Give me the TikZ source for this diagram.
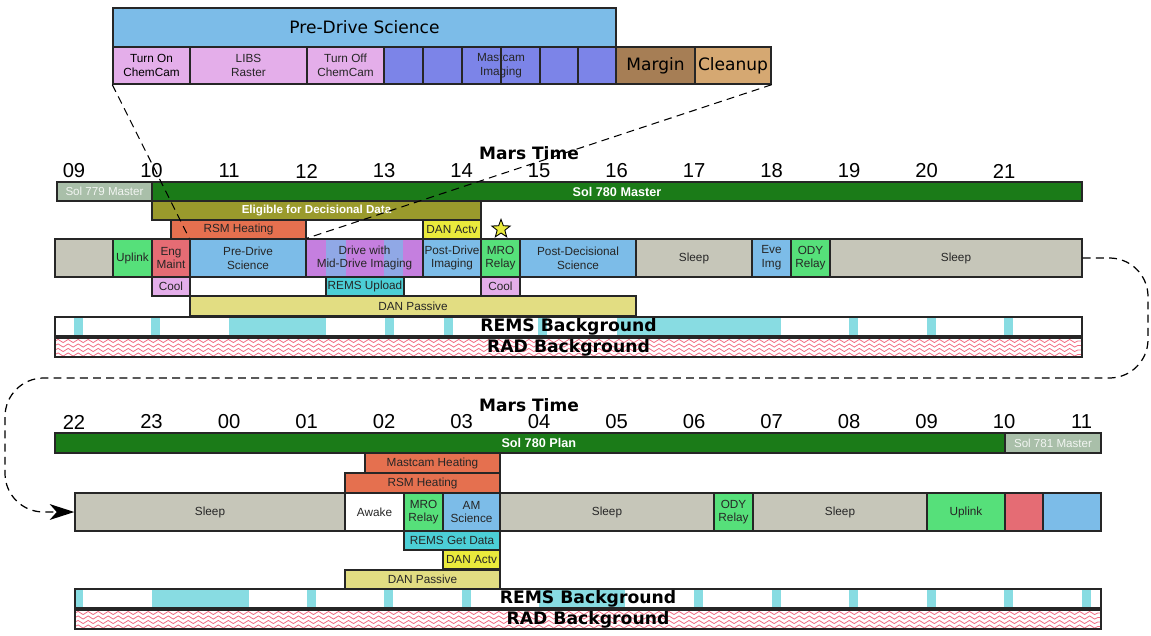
\documentclass[tikz,border=0pt]{standalone}
\usepackage{fontspec}
\setmainfont{Liberation Sans}
\newfontfamily\djv{DejaVu Sans}
\usetikzlibrary{shapes}
\usetikzlibrary{shapes.geometric}
\usetikzlibrary{arrows.meta}
\usetikzlibrary{decorations.pathmorphing}
\definecolor{sciblue}{HTML}{7CBCE8}
\definecolor{coolpink}{HTML}{E4AEEA}
\definecolor{camviolet}{HTML}{7C84E8}
\definecolor{marginbrown}{HTML}{A67E55}
\definecolor{cleanuptan}{HTML}{D5A872}
\definecolor{sleepgray}{HTML}{C6C6B9}
\definecolor{relaygreen}{HTML}{56E07A}
\definecolor{engred}{HTML}{E56C74}
\definecolor{drvpurple}{HTML}{C57FDF}
\definecolor{drvblue}{HTML}{90A8E6}
\definecolor{eligolive}{HTML}{9A9A2C}
\definecolor{soldark}{HTML}{1B7B18}
\definecolor{sollight}{HTML}{A9BFA9}
\definecolor{heatorange}{HTML}{E5704F}
\definecolor{danyellow}{HTML}{EAEA3C}
\definecolor{remsteal}{HTML}{4CCFD6}
\definecolor{dankhaki}{HTML}{E2DD82}
\definecolor{remscyan}{HTML}{88DCE2}
\definecolor{radred}{HTML}{F26B82}
\tikzset{
    span/.style args = {#1/#2/#3/#4}{at={({(#1+#3)/2},{(#2+#4)/2})}, minimum width={(#3-#1)*0.02cm}, minimum height={(#4-#2)*0.02cm}},
    blk/.style = {rectangle, draw=black!85, line width=0.8pt, inner sep=0pt, align=center, font=\fontsize{6.7}{7.8}\selectfont, text=black!85},
    blkgray/.style = {blk, fill=sleepgray},
    blkgreen/.style = {blk, fill=relaygreen},
    blkred/.style = {blk, fill=engred},
    blkblue/.style = {blk, fill=sciblue},
    blkpink/.style = {blk, fill=coolpink},
    blkviolet/.style = {blk, fill=camviolet},
    blkorange/.style = {blk, fill=heatorange},
    blkyellow/.style = {blk, fill=danyellow},
    blkkhaki/.style = {blk, fill=dankhaki},
    blkteal/.style = {blk, fill=remsteal},
    blkwhite/.style = {blk, fill=white},
    bigblk/.style = {blk, font=\djv\fontsize{9.7}{11}\selectfont, text=black},
    solbar/.style = {blk, fill=soldark, text=white, font=\fontsize{7.2}{8}\selectfont\bfseries},
    solbarl/.style = {blk, fill=sollight, text=white!85!sollight, font=\fontsize{6.6}{8}\selectfont},
    eligbar/.style = {blk, fill=eligolive, text=white, font=\fontsize{6.6}{8}\selectfont\bfseries},
    bgbar/.style = {blk, font=\djv\fontsize{9.8}{10}\selectfont\bfseries, text=black},
    hourlbl/.style = {font=\fontsize{11.5}{12}\selectfont, inner sep=0pt},
    marstime/.style = {font=\djv\fontsize{9.7}{10}\selectfont\bfseries, inner sep=0pt},
    remsfill/.style = {fill=remscyan},
    radwave/.style = {draw=radred, line width=0.45pt, decorate, decoration={snake, amplitude=0.9pt, segment length=5.7pt}},
    zoomline/.style = {-, line width=0.6pt, black, dash pattern=on 4.5pt off 3pt},
    loopline/.style = {line width=0.7pt, black, dash pattern=on 4.5pt off 3pt, rounded corners=22pt, -{Stealth[length=14pt,width=9pt,inset=4pt]}}
}

\begin{document}
\begin{tikzpicture}[x=0.02cm, y=-0.02cm]
\path[use as bounding box] (0,0) rectangle (1151,635);
% zoomed pre-drive science
\node[bigblk, fill=sciblue, span=113/8/616/47] (pdsinset) {Pre-Drive Science};
\node[blkpink, span=113/47/190/84, text=black] (turnon) {Turn On\\ChemCam};
\node[blkpink, span=190/47/307/84] (libs) {LIBS\\Raster};
\node[blkpink, span=307/47/384/84] (turnoff) {Turn Off\\ChemCam};
\node[blkviolet, span=384/47/423/84] (cama) {};
\node[blkviolet, span=423/47/462/84] (camb) {};
\node[blkviolet, span=462/47/501/84] (camc) {};
\node[blkviolet, span=501/47/540/84] (camd) {};
\node[blkviolet, span=540/47/578/84] (came) {};
\node[blkviolet, span=578/47/616/84] (camf) {};
\node[blk, draw=none] at (501,65.5) (camtxt) {Mastcam\\Imaging};
\node[bigblk, fill=marginbrown, span=616/47/695/84] (margin) {Margin};
\node[bigblk, fill=cleanuptan, span=695/47/771/84] (cleanup) {Cleanup};
%
% sol 780 master
\node[marstime] at (529,153) (mt1) {Mars Time};
\node[hourlbl] at (74,171) (ha09) {09};
\node[hourlbl] at (151.5,171) (ha10) {10};
\node[hourlbl] at (229,171) (ha11) {11};
\node[hourlbl] at (306.5,171) (ha12) {12};
\node[hourlbl] at (384,171) (ha13) {13};
\node[hourlbl] at (461.5,171) (ha14) {14};
\node[hourlbl] at (539,171) (ha15) {15};
\node[hourlbl] at (616.5,171) (ha16) {16};
\node[hourlbl] at (694,171) (ha17) {17};
\node[hourlbl] at (771.5,171) (ha18) {18};
\node[hourlbl] at (849,171) (ha19) {19};
\node[hourlbl] at (926.5,171) (ha20) {20};
\node[hourlbl] at (1004,171) (ha21) {21};
%
\node[solbarl, span=57/182/152/201] (sol779) {Sol 779 Master};
\node[solbar, span=152/182/1082/201] (sol780) {Sol 780 Master};
\node[eligbar, span=152/201/481/220] (elig) {Eligible for Decisional Data};
\node[blkorange, span=171/220/306/239] (rsma) {RSM Heating};
\node[blkyellow, span=423/220/481/239] (danacta) {DAN Actv};
\node[star, star points=5, star point ratio=2.4, minimum size=11pt, inner sep=0pt, fill=danyellow, draw=black, line width=0.5pt] at (501,229) (star) {};
%
\node[blkgray, span=55/239/113/277] (idle) {};
\node[blkgreen, span=113/239/152/277] (uplinka) {Uplink};
\node[blkred, span=152/239/190/277] (engmaint) {Eng\\Maint};
\node[blkblue, span=190/239/306/277] (predrive) {Pre-Drive\\Science};
\fill[drvpurple] (306,239) rectangle (326,277);
\fill[drvblue] (326,239) rectangle (346,277);
\fill[drvpurple] (346,239) rectangle (384,277);
\fill[drvblue] (384,239) rectangle (403,277);
\fill[drvpurple] (403,239) rectangle (423,277);
\node[blk, span=306/239/423/277] (drive) {Drive with\\Mid-Drive Imaging};
\node[blkblue, span=423/239/481/277] (postdrive) {Post-Drive\\Imaging};
\node[blkgreen, span=481/239/520/277] (mroa) {MRO\\Relay};
\node[blkblue, span=520/239/636/277] (postdec) {Post-Decisional\\Science};
\node[blkgray, span=636/239/752/277] (sleepa) {Sleep};
\node[blkblue, span=752/239/791/277] (eveimg) {Eve\\Img};
\node[blkgreen, span=791/239/830/277] (odya) {ODY\\Relay};
\node[blkgray, span=830/239/1082/277] (sleepb) {Sleep};
%
\node[blkpink, span=152/277/190/296] (coola) {Cool};
\node[blkteal, span=326/277/404/296] (remsup) {REMS Upload};
\node[blkpink, span=481/277/520/296] (coolb) {Cool};
\node[blkkhaki, span=190/296/636/316] (danpasa) {DAN Passive};
%
\fill[remsfill] (74,317) rectangle (83,336);
\fill[remsfill] (151,317) rectangle (160,336);
\fill[remsfill] (229,317) rectangle (326,336);
\fill[remsfill] (385,317) rectangle (394,336);
\fill[remsfill] (444,317) rectangle (453,336);
\fill[remsfill] (538,317) rectangle (547,336);
\fill[remsfill] (617,317) rectangle (781,336);
\fill[remsfill] (849,317) rectangle (858,336);
\fill[remsfill] (927,317) rectangle (936,336);
\fill[remsfill] (1004,317) rectangle (1013,336);
\node[bgbar, span=55/317/1082/336] (remsa) {REMS Background};
\begin{scope}
\clip (55,338) rectangle (1082,357);
\foreach \yy in {341,345.5,350,354.5}
  \draw[radwave] (55,\yy) -- (1082,\yy);
\end{scope}
\node[bgbar, span=55/338/1082/357] (rada) {RAD Background};
%
% sol 780 plan
\node[marstime] at (529,405) (mt2) {Mars Time};
\node[hourlbl] at (74,422) (hb22) {22};
\node[hourlbl] at (151.5,422) (hb23) {23};
\node[hourlbl] at (229,422) (hb00) {00};
\node[hourlbl] at (306.5,422) (hb01) {01};
\node[hourlbl] at (384,422) (hb02) {02};
\node[hourlbl] at (461.5,422) (hb03) {03};
\node[hourlbl] at (539,422) (hb04) {04};
\node[hourlbl] at (616.5,422) (hb05) {05};
\node[hourlbl] at (694,422) (hb06) {06};
\node[hourlbl] at (771.5,422) (hb07) {07};
\node[hourlbl] at (849,422) (hb08) {08};
\node[hourlbl] at (926.5,422) (hb09) {09};
\node[hourlbl] at (1004,422) (hb10) {10};
\node[hourlbl] at (1081.5,422) (hb11) {11};
%
\node[solbar, span=55/433/1005/453] (solplan) {\hspace{10pt}Sol 780 Plan};
\node[solbarl, span=1005/433/1101/453] (sol781) {Sol 781 Master};
\node[blkorange, span=365/453/500/473] (mcheat) {Mastcam Heating};
\node[blkorange, span=345/473/500/493] (rsmb) {RSM Heating};
%
\node[blkgray, span=75/493/345/531] (sleepc) {Sleep};
\node[blkwhite, span=345/493/404/531] (awake) {Awake};
\node[blkgreen, span=404/493/443/531] (mrob) {MRO\\Relay};
\node[blkblue, span=443/493/500/531] (amsci) {AM\\Science};
\node[blkgray, span=500/493/714/531] (sleepd) {Sleep};
\node[blkgreen, span=714/493/753/531] (odyb) {ODY\\Relay};
\node[blkgray, span=753/493/927/531] (sleepe) {Sleep};
\node[blkgreen, span=927/493/1005/531] (uplinkb) {Uplink};
\node[blkred, span=1005/493/1043/531] (engb) {};
\node[blkblue, span=1043/493/1101/531] (scib) {};
%
\node[blkteal, span=404/531/500/550] (remsget) {REMS Get Data};
\node[blkyellow, span=443/550/500/569] (danactb) {DAN Actv};
\node[blkkhaki, span=345/570/500/589] (danpasb) {DAN Passive};
%
\fill[remsfill] (75,589) rectangle (83,608);
\fill[remsfill] (152,589) rectangle (249,608);
\fill[remsfill] (307,589) rectangle (316,608);
\fill[remsfill] (384,589) rectangle (393,608);
\fill[remsfill] (462,589) rectangle (471,608);
\fill[remsfill] (539,589) rectangle (625,608);
\fill[remsfill] (694,589) rectangle (703,608);
\fill[remsfill] (772,589) rectangle (781,608);
\fill[remsfill] (849,589) rectangle (858,608);
\fill[remsfill] (927,589) rectangle (936,608);
\fill[remsfill] (1004,589) rectangle (1013,608);
\fill[remsfill] (1082,589) rectangle (1091,608);
\node[bgbar, span=75/589/1101/608] (remsb) {REMS Background};
\begin{scope}
\clip (75,610) rectangle (1101,629);
\foreach \yy in {613,617.5,622,626.5}
  \draw[radwave] (75,\yy) -- (1101,\yy);
\end{scope}
\node[bgbar, span=75/610/1101/629] (radb) {RAD Background};
%
\draw[zoomline] (turnon.south west) -- (predrive.north west);
\draw[zoomline] (cleanup.south east) -- (predrive.north east);
\coordinate (bendA) at (1148,258);
\coordinate (bendB) at (1148,378);
\coordinate (bendC) at (5,378);
\coordinate (bendD) at (5,512);
\draw[loopline] (sleepb.east) -- (bendA) -- (bendB) -- (bendC) -- (bendD) -- (sleepc.west);
\end{tikzpicture}
\end{document}
